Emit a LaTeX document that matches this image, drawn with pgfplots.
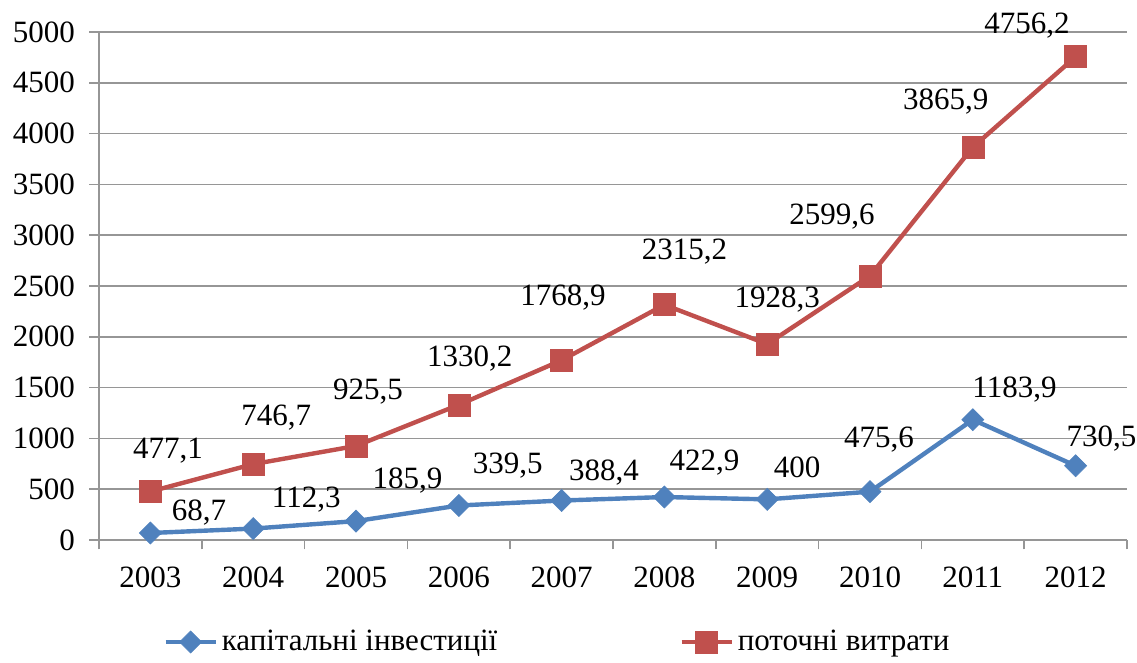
\documentclass[border=0pt]{standalone}
\usepackage{fontspec}
\setmainfont{Liberation Serif}
\usepackage{pgfplots}
\usepackage{pgfplotstable}
\pgfplotsset{compat=1.18}
\definecolor{cblue}{RGB}{79,129,189}
\definecolor{cred}{RGB}{192,80,77}
\definecolor{cgrid}{RGB}{150,150,150}
\newcommand\myfont{\fontsize{15.5}{18}\selectfont}
\pgfplotstableread{
x y lab dx dy
0 477.1 477,1 8.8 16.75
1 746.7 746,7 11.5 19.5
2 925.5 925,5 6 23
3 1330.2 1330,2 5.5 19
4 1768.9 1768,9 0.75 27.5
5 2315.2 2315,2 10 22.5
6 1928.3 1928,3 5 18.5
7 2599.6 2599,6 -19 25.5
8 3865.9 3865,9 -13.5 19
9 4756.2 4756,2 -24.3 11.5
}\redtab
\pgfplotstableread{
x y lab dx dy
0 68.7 68,7 24.3 6.5
1 112.3 112,3 26.5 10.3
2 185.9 185,9 25.75 16.5
3 339.5 339,5 24.5 16.25
4 388.4 388,4 21.25 10.25
5 422.9 422,9 20 13.5
6 400 400 15 11
7 475.6 475,6 4.5 22
8 1183.9 1183,9 20.85 11.35
9 730.5 730,5 13 9.5
}\bluetab
\pgfplotsset{
  mylabels/.style={
    nodes near coords,
    point meta=explicit symbolic,
    visualization depends on={\thisrow{dx}\as\mydx},
    visualization depends on={\thisrow{dy}\as\mydy},
    every node near coord/.append style={font=\myfont, text=black, anchor=base, xshift=\mydx pt, yshift=\mydy pt},
  }
}
\begin{document}
\begin{tikzpicture}
\begin{axis}[
  scale only axis, width=514pt, height=254pt,
  xmin=-0.5, xmax=9.5, ymin=0, ymax=5000,
  clip=false,
  axis x line*=bottom, axis y line*=left,
  axis line style={draw=cgrid, line width=0.8pt, -},
  ytick={0,500,...,5000},
  xtick={-0.5,0.5,...,9.5},
  xticklabels={2003,2004,2005,2006,2007,2008,2009,2010,2011,2012,{}},
  tick align=outside, major tick length=4.75pt,
  tick style={draw=cgrid, line width=0.8pt},
  ymajorgrids, grid style={draw=cgrid, line width=0.8pt},
  scaled y ticks=false,
  /pgf/number format/1000 sep={},
  /pgf/number format/assume math mode=true,
  every tick label/.append style={font=\myfont, text=black},
  xticklabel style={anchor=base, xshift=25.7pt, yshift=-19pt},
  yticklabel style={xshift=-3.75pt},
  legend style={draw=none, fill=none, at={(0,0)}, anchor=west,
    xshift=29pt, yshift=-51pt, font=\myfont,
    legend columns=2, /tikz/every even column/.append style={column sep=89pt}},
  legend cell align=left,
  legend image code/.code={\draw[mark repeat=2,mark phase=2,#1] plot coordinates {(0pt,0pt) (12.5pt,0pt) (25pt,0pt)};},
]
\addplot[cblue, line width=2.2pt, mark=square*, mark size=3.9pt,
  mark options={rotate=45, line width=0.3pt, fill=cblue, draw=cblue}, mylabels]
  table[x=x, y=y, meta=lab] {\bluetab};
\addlegendentry{капітальні інвестиції}
\addplot[cred, line width=2.2pt, mark=square*, mark size=5.5pt,
  mark options={line width=0.3pt, fill=cred, draw=cred}, mylabels]
  table[x=x, y=y, meta=lab] {\redtab};
\addlegendentry{поточні витрати}
\coordinate (bl) at (rel axis cs:0,0);
\coordinate (tr) at (rel axis cs:1,1);
\end{axis}
\pgfresetboundingbox
\path ([shift={(-49.5pt,-61.5pt)}]bl) rectangle ([shift={(5pt,16pt)}]tr);
\end{tikzpicture}
\end{document}
